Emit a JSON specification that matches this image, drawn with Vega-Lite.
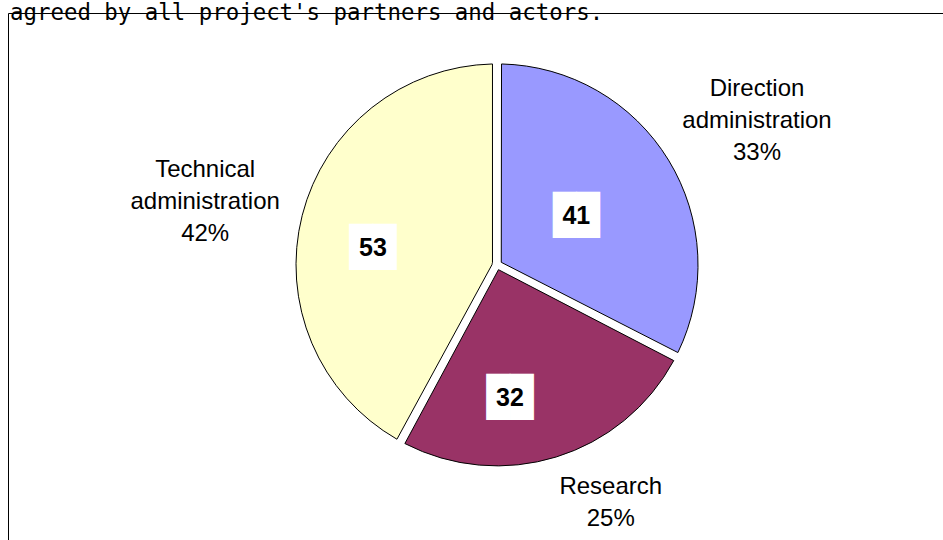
{
  "$schema": "https://vega.github.io/schema/vega-lite/v6.json",
  "width": 935,
  "height": 527,
  "autosize": {"type": "none"},
  "padding": {"left": 8, "top": 13, "right": 0, "bottom": 0},
  "background": "white",
  "config": {"view": {"stroke": null}},
  "title": {
    "text": "agreed by all project's partners and actors.",
    "anchor": "start",
    "frame": "group",
    "font": "DejaVu Sans Mono",
    "fontSize": 22.4,
    "fontWeight": "normal",
    "color": "black",
    "baseline": "alphabetic",
    "offset": -29,
    "dx": 2
  },
  "data": {
    "values": [
      {"category": "Direction administration", "value": 41, "idx": 1, "label": "Direction\nadministration\n33%"},
      {"category": "Research", "value": 32, "idx": 2, "label": "Research\n25%"},
      {"category": "Technical administration", "value": 53, "idx": 3, "label": "Technical\nadministration\n42%"}
    ]
  },
  "encoding": {
    "theta": {"field": "value", "type": "quantitative", "stack": true},
    "order": {"field": "idx", "type": "quantitative"},
    "x": {"datum": 0.523, "type": "quantitative", "scale": {"domain": [0, 1]},
      "axis": {"orient": "top", "labels": false, "ticks": false, "grid": false, "title": null, "domainColor": "black", "domainWidth": 1}},
    "y": {"datum": 0.522, "type": "quantitative", "scale": {"domain": [0, 1]},
      "axis": {"orient": "left", "labels": false, "ticks": false, "grid": false, "title": null, "domainColor": "black", "domainWidth": 1}}
  },
  "layer": [
    {
      "mark": {"type": "arc", "outerRadius": 201, "innerRadius": 5, "padAngle": 0.045, "stroke": "black", "strokeWidth": 1},
      "encoding": {
        "color": {"field": "category", "type": "nominal",
          "scale": {"domain": ["Direction administration", "Research", "Technical administration"], "range": ["#9999FF", "#993366", "#FFFFCC"]},
          "legend": null}
      }
    },
    {
      "mark": {"type": "text", "radius": 93, "font": "DejaVu Sans Mono", "fontSize": 39, "align": "center", "baseline": "middle", "color": "white"},
      "encoding": {"detail": {"field": "category"}, "text": {"condition": {"test": "datum.category === 'Direction administration'", "value": "██"}, "value": ""}}
    },
    {
      "mark": {"type": "text", "radius": 132, "dx": -26, "dy": 7, "font": "DejaVu Sans Mono", "fontSize": 39, "align": "center", "baseline": "middle", "color": "white"},
      "encoding": {"detail": {"field": "category"}, "text": {"condition": {"test": "datum.category === 'Research'", "value": "██"}, "value": ""}}
    },
    {
      "mark": {"type": "text", "radius": 127, "dx": -1, "dy": 14, "font": "DejaVu Sans Mono", "fontSize": 39, "align": "center", "baseline": "middle", "color": "white"},
      "encoding": {"detail": {"field": "category"}, "text": {"condition": {"test": "datum.category === 'Technical administration'", "value": "██"}, "value": ""}}
    },
    {
      "mark": {"type": "text", "radius": 93, "font": "Liberation Sans", "fontSize": 25, "fontWeight": "bold", "align": "center", "baseline": "middle", "color": "black"},
      "encoding": {"detail": {"field": "category"}, "text": {"condition": {"test": "datum.category === 'Direction administration'", "field": "value", "type": "quantitative"}, "value": ""}}
    },
    {
      "mark": {"type": "text", "radius": 132, "dx": -26, "dy": 7, "font": "Liberation Sans", "fontSize": 25, "fontWeight": "bold", "align": "center", "baseline": "middle", "color": "black"},
      "encoding": {"detail": {"field": "category"}, "text": {"condition": {"test": "datum.category === 'Research'", "field": "value", "type": "quantitative"}, "value": ""}}
    },
    {
      "mark": {"type": "text", "radius": 127, "dx": -1, "dy": 14, "font": "Liberation Sans", "fontSize": 25, "fontWeight": "bold", "align": "center", "baseline": "middle", "color": "black"},
      "encoding": {"detail": {"field": "category"}, "text": {"condition": {"test": "datum.category === 'Technical administration'", "field": "value", "type": "quantitative"}, "value": ""}}
    },
    {
      "mark": {"type": "text", "radius": 300, "dx": 4, "dy": -19, "font": "Liberation Sans", "fontSize": 24, "lineBreak": "\n", "lineHeight": 32, "align": "center", "baseline": "middle", "color": "black"},
      "encoding": {"detail": {"field": "category"}, "text": {"condition": {"test": "datum.category === 'Direction administration'", "field": "label", "type": "nominal"}, "value": ""}}
    },
    {
      "mark": {"type": "text", "radius": 240, "dx": 43, "dy": -7, "font": "Liberation Sans", "fontSize": 24, "lineBreak": "\n", "lineHeight": 32, "align": "center", "baseline": "middle", "color": "black"},
      "encoding": {"detail": {"field": "category"}, "text": {"condition": {"test": "datum.category === 'Research'", "field": "label", "type": "nominal"}, "value": ""}}
    },
    {
      "mark": {"type": "text", "radius": 296, "dx": -5, "dy": -22, "font": "Liberation Sans", "fontSize": 24, "lineBreak": "\n", "lineHeight": 32, "align": "center", "baseline": "middle", "color": "black"},
      "encoding": {"detail": {"field": "category"}, "text": {"condition": {"test": "datum.category === 'Technical administration'", "field": "label", "type": "nominal"}, "value": ""}}
    }
  ]
}
